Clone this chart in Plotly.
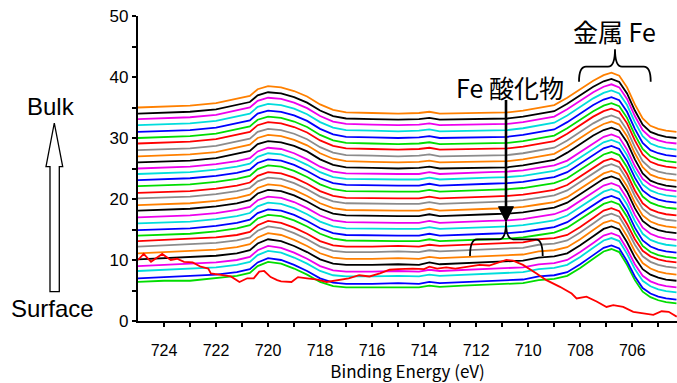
import plotly.graph_objects as go

# ---------------- data ----------------
energy_eV = [725.0, 724.0, 723.0, 722.0, 721.2, 720.7, 720.4, 720.0, 719.5, 719.0,
             718.5, 718.0, 717.5, 717.0, 716.0, 715.0, 714.2, 713.8, 713.4, 712.5,
             711.5, 710.8, 710.2, 709.6, 709.0, 708.5, 708.0, 707.5, 707.1, 706.8,
             706.5, 706.2, 705.9, 705.6, 705.3, 705.0, 704.7, 704.3]

surface_energy_eV = [725.0, 724.78, 724.5, 724.07, 723.74, 723.5, 723.23, 722.9, 722.59, 722.3,
                     722.2, 721.8, 721.43, 721.1, 720.8, 720.55, 720.34, 720.15, 719.9, 719.65,
                     719.5, 719.1, 718.85, 718.5, 718.1, 717.75, 717.3, 716.9, 716.5, 716.1,
                     715.7, 715.33, 715.0, 714.44, 714.0, 713.8, 713.5, 713.15, 712.8, 712.38,
                     711.87, 711.5, 711.22, 710.84, 710.58, 710.2, 709.68, 709.3, 708.78, 708.33,
                     708.14, 707.76, 707.37, 706.99, 706.73, 706.35, 705.96, 705.58, 705.19, 704.87,
                     704.6, 704.29]
surface_intensity = [10.0, 11.0, 9.7, 11.0, 10.0, 10.2, 9.7, 9.6, 8.9, 8.6,
                     7.8, 7.5, 7.3, 6.4, 7.0, 7.0, 8.1, 8.2, 7.2, 6.7,
                     6.5, 6.4, 7.2, 7.0, 6.8, 6.4, 6.7, 7.0, 7.5, 7.3,
                     7.8, 8.4, 8.5, 8.6, 8.5, 8.9, 8.6, 8.8, 8.6, 8.9,
                     9.2, 9.1, 9.5, 10.0, 9.9, 9.2, 7.8, 6.7, 5.6, 4.5,
                     3.7, 4.0, 3.2, 2.3, 2.6, 2.3, 1.5, 1.3, 1.0, 1.6,
                     1.5, 0.7]

layer01 = [6.4, 6.6, 6.6, 7.0, 7.4, 7.9, 9.0, 9.7, 9.4, 8.6, 7.6, 6.4, 5.7, 5.5, 5.5, 5.4, 5.5, 5.8, 5.6, 5.8, 6.0, 6.1, 6.2, 6.7, 6.9, 7.4, 8.7, 10.2, 11.4, 11.8, 11.3, 9.2, 6.7, 4.8, 3.9, 3.4, 3.1, 2.9]
layer02 = [7.0, 7.2, 7.3, 7.6, 8.0, 8.5, 9.6, 10.3, 10.0, 9.2, 8.2, 7.0, 6.3, 6.1, 6.1, 6.2, 6.1, 6.4, 6.2, 6.4, 6.6, 6.7, 6.8, 7.3, 7.5, 8.0, 9.3, 10.8, 12.0, 12.4, 11.9, 9.8, 7.3, 5.4, 4.5, 4.0, 3.7, 3.5]
layer03 = [8.2, 8.4, 8.5, 8.8, 9.2, 9.7, 10.8, 11.5, 11.2, 10.4, 9.4, 8.2, 7.5, 7.3, 7.3, 7.4, 7.3, 7.6, 7.4, 7.6, 7.8, 7.9, 8.0, 8.5, 8.7, 9.2, 10.5, 12.0, 13.2, 13.6, 13.1, 11.0, 8.5, 6.6, 5.7, 5.2, 4.9, 4.7]
layer04 = [9.0, 9.2, 9.3, 9.6, 10.0, 10.5, 11.6, 12.3, 12.0, 11.2, 10.2, 9.0, 8.3, 8.1, 8.1, 8.2, 8.1, 8.4, 8.2, 8.4, 8.6, 8.7, 8.8, 9.3, 9.5, 10.0, 11.3, 12.8, 14.0, 14.4, 13.9, 11.8, 9.3, 7.4, 6.5, 6.0, 5.7, 5.5]
layer05 = [10.1, 10.3, 10.4, 10.7, 11.1, 11.6, 12.7, 13.4, 13.1, 12.3, 11.3, 10.1, 9.4, 9.2, 9.2, 9.3, 9.2, 9.6, 9.3, 9.5, 9.7, 9.8, 9.9, 10.4, 10.6, 11.1, 12.4, 13.9, 15.1, 15.5, 15.0, 12.9, 10.4, 8.5, 7.6, 7.1, 6.8, 6.6]
layer06 = [11.1, 11.3, 11.4, 11.7, 12.1, 12.6, 13.7, 14.4, 14.1, 13.3, 12.3, 11.1, 10.4, 10.2, 10.2, 10.3, 10.2, 10.5, 10.3, 10.5, 10.7, 10.8, 10.9, 11.4, 11.6, 12.1, 13.4, 14.9, 16.1, 16.5, 16.0, 13.9, 11.4, 9.5, 8.6, 8.1, 7.8, 7.6]
layer07 = [12.2, 12.4, 12.5, 12.8, 13.2, 13.7, 14.8, 15.5, 15.2, 14.4, 13.4, 12.2, 11.5, 11.3, 11.3, 11.4, 11.3, 11.6, 11.4, 11.6, 11.8, 11.9, 12.0, 12.5, 12.7, 13.2, 14.5, 16.0, 17.2, 17.6, 17.1, 15.0, 12.5, 10.6, 9.7, 9.2, 8.9, 8.7]
layer08 = [13.1, 13.3, 13.4, 13.7, 14.1, 14.6, 15.7, 16.4, 16.1, 15.3, 14.3, 13.1, 12.4, 12.2, 12.2, 12.3, 12.2, 12.5, 12.3, 12.5, 12.7, 12.8, 12.9, 13.4, 13.6, 14.1, 15.4, 16.9, 18.1, 18.5, 18.0, 15.9, 13.4, 11.5, 10.6, 10.1, 9.8, 9.6]
layer09 = [14.0, 14.1, 14.3, 14.7, 15.2, 15.7, 16.8, 17.4, 17.2, 16.5, 15.5, 14.3, 13.5, 13.2, 13.1, 13.1, 13.1, 13.4, 13.1, 13.3, 13.4, 13.5, 13.7, 14.1, 14.5, 15.3, 16.7, 18.1, 19.2, 19.6, 19.1, 17.1, 14.4, 12.3, 11.3, 10.8, 10.5, 10.3]
layer10 = [14.9, 15.0, 15.2, 15.6, 16.1, 16.6, 17.7, 18.3, 18.1, 17.4, 16.4, 15.2, 14.4, 14.1, 14.0, 14.0, 14.0, 14.3, 14.0, 14.2, 14.3, 14.4, 14.6, 15.0, 15.4, 16.2, 17.6, 19.0, 20.1, 20.5, 20.0, 18.0, 15.3, 13.2, 12.2, 11.7, 11.4, 11.2]
layer11 = [16.0, 16.1, 16.3, 16.7, 17.2, 17.7, 18.8, 19.4, 19.2, 18.5, 17.5, 16.3, 15.5, 15.2, 15.1, 15.1, 15.1, 15.4, 15.1, 15.3, 15.4, 15.5, 15.7, 16.1, 16.5, 17.3, 18.7, 20.1, 21.2, 21.6, 21.1, 19.1, 16.4, 14.3, 13.3, 12.8, 12.5, 12.3]
layer12 = [17.0, 17.1, 17.3, 17.7, 18.2, 18.7, 19.8, 20.4, 20.2, 19.5, 18.5, 17.3, 16.5, 16.2, 16.1, 16.1, 16.1, 16.4, 16.1, 16.3, 16.4, 16.5, 16.7, 17.1, 17.5, 18.3, 19.7, 21.1, 22.2, 22.6, 22.1, 20.1, 17.4, 15.3, 14.3, 13.8, 13.5, 13.3]
layer13 = [18.1, 18.2, 18.4, 18.8, 19.3, 19.8, 20.9, 21.5, 21.3, 20.6, 19.6, 18.4, 17.6, 17.3, 17.2, 17.2, 17.2, 17.5, 17.2, 17.4, 17.5, 17.6, 17.8, 18.2, 18.6, 19.4, 20.8, 22.2, 23.3, 23.7, 23.2, 21.2, 18.5, 16.4, 15.4, 14.9, 14.6, 14.4]
layer14 = [19.0, 19.1, 19.3, 19.7, 20.2, 20.7, 21.8, 22.4, 22.2, 21.5, 20.5, 19.3, 18.5, 18.2, 18.1, 18.1, 18.1, 18.4, 18.1, 18.3, 18.4, 18.5, 18.7, 19.1, 19.5, 20.3, 21.7, 23.1, 24.2, 24.6, 24.1, 22.1, 19.4, 17.3, 16.3, 15.8, 15.5, 15.3]
layer15 = [20.1, 20.2, 20.4, 20.8, 21.3, 21.8, 22.9, 23.5, 23.3, 22.6, 21.6, 20.4, 19.6, 19.3, 19.2, 19.2, 19.2, 19.5, 19.2, 19.4, 19.5, 19.6, 19.8, 20.2, 20.6, 21.4, 22.8, 24.2, 25.3, 25.7, 25.2, 23.2, 20.5, 18.4, 17.4, 16.9, 16.6, 16.4]
layer16 = [21.0, 21.1, 21.3, 21.7, 22.2, 22.7, 23.8, 24.4, 24.2, 23.5, 22.5, 21.3, 20.5, 20.2, 20.1, 20.1, 20.1, 20.4, 20.1, 20.3, 20.4, 20.5, 20.7, 21.1, 21.5, 22.3, 23.7, 25.1, 26.2, 26.6, 26.1, 24.1, 21.4, 19.3, 18.3, 17.8, 17.5, 17.3]
layer17 = [22.1, 22.2, 22.4, 22.8, 23.3, 23.8, 24.9, 25.5, 25.3, 24.6, 23.6, 22.4, 21.6, 21.3, 21.2, 21.2, 21.2, 21.5, 21.2, 21.4, 21.5, 21.6, 21.8, 22.2, 22.6, 23.4, 24.8, 26.2, 27.3, 27.7, 27.2, 25.2, 22.5, 20.4, 19.4, 18.9, 18.6, 18.4]
layer18 = [23.1, 23.2, 23.4, 23.8, 24.3, 24.8, 25.9, 26.5, 26.3, 25.6, 24.6, 23.4, 22.6, 22.3, 22.2, 22.2, 22.2, 22.5, 22.2, 22.4, 22.5, 22.6, 22.8, 23.2, 23.6, 24.4, 25.8, 27.2, 28.3, 28.7, 28.2, 26.2, 23.5, 21.4, 20.4, 19.9, 19.6, 19.4]
layer19 = [24.1, 24.2, 24.4, 24.8, 25.3, 25.8, 26.9, 27.5, 27.3, 26.6, 25.6, 24.4, 23.6, 23.3, 23.2, 23.2, 23.2, 23.5, 23.2, 23.4, 23.5, 23.6, 23.8, 24.2, 24.6, 25.4, 26.8, 28.2, 29.3, 29.7, 29.2, 27.2, 24.5, 22.4, 21.4, 20.9, 20.6, 20.4]
layer20 = [25.0, 25.1, 25.3, 25.7, 26.2, 26.7, 27.8, 28.4, 28.2, 27.5, 26.5, 25.3, 24.5, 24.2, 24.1, 24.1, 24.1, 24.4, 24.1, 24.3, 24.4, 24.5, 24.7, 25.1, 25.5, 26.3, 27.7, 29.1, 30.2, 30.6, 30.1, 28.1, 25.4, 23.3, 22.3, 21.8, 21.5, 21.3]
layer21 = [26.0, 26.1, 26.3, 26.7, 27.4, 27.9, 29.0, 29.5, 29.3, 28.7, 27.8, 26.5, 25.6, 25.2, 25.1, 25.0, 25.1, 25.3, 25.0, 25.1, 25.1, 25.2, 25.5, 25.9, 26.4, 27.6, 29.0, 30.4, 31.3, 31.7, 31.2, 29.3, 26.5, 24.2, 23.0, 22.5, 22.2, 22.0]
layer22 = [27.0, 27.1, 27.3, 27.7, 28.4, 28.9, 30.0, 30.5, 30.3, 29.7, 28.8, 27.5, 26.6, 26.2, 26.1, 26.0, 26.1, 26.3, 26.0, 26.1, 26.1, 26.2, 26.5, 26.9, 27.4, 28.6, 30.0, 31.4, 32.3, 32.7, 32.2, 30.3, 27.5, 25.2, 24.0, 23.5, 23.2, 23.0]
layer23 = [28.0, 28.1, 28.3, 28.7, 29.4, 29.9, 31.0, 31.5, 31.3, 30.7, 29.8, 28.5, 27.6, 27.2, 27.1, 27.0, 27.1, 27.3, 27.0, 27.1, 27.1, 27.2, 27.5, 27.9, 28.4, 29.6, 31.0, 32.4, 33.3, 33.7, 33.2, 31.3, 28.5, 26.2, 25.0, 24.5, 24.2, 24.0]
layer24 = [29.1, 29.2, 29.4, 29.8, 30.5, 31.0, 32.1, 32.6, 32.4, 31.8, 30.9, 29.6, 28.7, 28.3, 28.2, 28.1, 28.2, 28.4, 28.1, 28.2, 28.2, 28.3, 28.6, 29.0, 29.5, 30.7, 32.1, 33.5, 34.4, 34.8, 34.3, 32.4, 29.6, 27.3, 26.1, 25.6, 25.3, 25.1]
layer25 = [30.0, 30.1, 30.3, 30.7, 31.4, 31.9, 33.0, 33.5, 33.3, 32.7, 31.8, 30.5, 29.6, 29.2, 29.1, 29.0, 29.1, 29.3, 29.0, 29.1, 29.1, 29.2, 29.5, 29.9, 30.4, 31.6, 33.0, 34.4, 35.3, 35.7, 35.2, 33.3, 30.5, 28.2, 27.0, 26.5, 26.2, 26.0]
layer26 = [31.0, 31.1, 31.3, 31.7, 32.4, 32.9, 34.0, 34.5, 34.3, 33.7, 32.8, 31.5, 30.6, 30.2, 30.1, 30.0, 30.1, 30.3, 30.0, 30.1, 30.1, 30.2, 30.5, 30.9, 31.4, 32.6, 34.0, 35.4, 36.3, 36.7, 36.2, 34.3, 31.5, 29.2, 28.0, 27.5, 27.2, 27.0]
layer27 = [32.1, 32.2, 32.4, 32.8, 33.5, 34.0, 35.1, 35.6, 35.4, 34.8, 33.9, 32.6, 31.7, 31.3, 31.2, 31.1, 31.2, 31.4, 31.1, 31.2, 31.2, 31.3, 31.6, 32.0, 32.5, 33.7, 35.1, 36.5, 37.4, 37.8, 37.3, 35.4, 32.6, 30.3, 29.1, 28.6, 28.3, 28.1]
layer28 = [33.1, 33.2, 33.4, 33.8, 34.5, 35.0, 36.1, 36.6, 36.4, 35.8, 34.9, 33.6, 32.7, 32.3, 32.2, 32.1, 32.2, 32.4, 32.1, 32.2, 32.2, 32.3, 32.6, 33.0, 33.5, 34.7, 36.1, 37.5, 38.4, 38.8, 38.3, 36.4, 33.6, 31.3, 30.1, 29.6, 29.3, 29.1]
layer29 = [34.0, 34.1, 34.3, 34.7, 35.4, 35.9, 37.0, 37.5, 37.3, 36.7, 35.8, 34.5, 33.6, 33.2, 33.1, 33.0, 33.1, 33.3, 33.0, 33.1, 33.1, 33.2, 33.5, 33.9, 34.4, 35.6, 37.0, 38.4, 39.3, 39.7, 39.2, 37.3, 34.5, 32.2, 31.0, 30.5, 30.2, 30.0]
layer30 = [35.0, 35.1, 35.3, 35.7, 36.4, 36.9, 38.0, 38.5, 38.3, 37.7, 36.8, 35.5, 34.6, 34.2, 34.1, 34.0, 34.1, 34.3, 34.0, 34.1, 34.1, 34.2, 34.5, 34.9, 35.4, 36.6, 38.0, 39.4, 40.3, 40.7, 40.2, 38.3, 35.5, 33.2, 32.0, 31.5, 31.2, 31.0]

x_tick_values = [724, 722, 720, 718, 716, 714, 712, 710, 708, 706]
x_minor_values = [723, 721, 719, 717, 715, 713, 711, 709, 707, 705]
y_tick_values = [0, 10, 20, 30, 40, 50]
y_minor_values = [5, 15, 25, 35, 45]

x_title = "Binding Energy (eV)"
label_metal = "金属 Fe"
label_oxide = "Fe 酸化物"
label_bulk = "Bulk"
label_surface = "Surface"

# ---------------- styling ----------------
layers = [layer01, layer02, layer03, layer04, layer05, layer06, layer07, layer08, layer09, layer10,
          layer11, layer12, layer13, layer14, layer15, layer16, layer17, layer18, layer19, layer20,
          layer21, layer22, layer23, layer24, layer25, layer26, layer27, layer28, layer29, layer30]
color_cycle = ["#00DD00", "#0000FF", "#00DDDD", "#EE00EE", "#000000", "#FF8000", "#8C8C8C", "#FF0000"]

W, H = 677, 383
PL, PR, PT, PB = 138, 677, 16, 321   # plot area in pixels
PW, PH = PR - PL, PB - PT

def px(x):
    return (x - PL) / PW

def py(y):
    return (PB - y) / PH

def path_from(points, close=False):
    s = "M " + " L ".join(f"{px(a):.5f},{py(b):.5f}" for a, b in points)
    return s + (" Z" if close else "")

def brace_path(xl, xr, xc, y_arm, y_bar, y_tip, r=7):
    p = lambda a, b: f"{px(a):.5f},{py(b):.5f}"
    return (f"M {p(xl, y_arm)} Q {p(xl, y_bar)} {p(xl + r, y_bar)} L {p(xc - r, y_bar)} "
            f"Q {p(xc, y_bar)} {p(xc, y_tip)} Q {p(xc, y_bar)} {p(xc + r, y_bar)} "
            f"L {p(xr - r, y_bar)} Q {p(xr, y_bar)} {p(xr, y_arm)}")

fig = go.Figure()
for i, ys in enumerate(layers):
    fig.add_trace(go.Scatter(x=energy_eV, y=ys, mode="lines",
                             line=dict(color=color_cycle[(i) % 8], width=1.8),
                             showlegend=False, hoverinfo="skip"))
fig.add_trace(go.Scatter(x=surface_energy_eV, y=surface_intensity, mode="lines",
                         line=dict(color="#FF0000", width=1.8),
                         showlegend=False, hoverinfo="skip"))

tick_font = dict(family="Liberation Sans, Arial, sans-serif", size=16, color="black")
all_x = sorted(x_tick_values + x_minor_values)
all_y = sorted(y_tick_values + y_minor_values)

fig.update_layout(
    width=W, height=H,
    margin=dict(l=PL, r=W - PR, t=PT, b=H - PB, autoexpand=False),
    paper_bgcolor="white", plot_bgcolor="white",
    xaxis=dict(range=[725, 704.28], tickmode="array", tickvals=all_x,
               ticktext=[str(v) if v in x_tick_values else "" for v in all_x],
               ticks="outside", ticklen=4, tickwidth=1.5, tickcolor="black",
               showline=True, linewidth=1.5, linecolor="black",
               showgrid=False, zeroline=False, tickfont=tick_font,
               ticklabelstandoff=10,
               title=dict(text=x_title, standoff=6,
                          font=dict(family="Noto Sans CJK JP, sans-serif", size=17, color="black"))),
    xaxis2=dict(range=[725, 704.28], overlaying="x", anchor="y", side="bottom",
                tickmode="array", tickvals=all_x, ticks="inside", ticklen=4, tickwidth=1.5,
                tickcolor="black", showticklabels=False, showline=False, showgrid=False,
                zeroline=False),
    yaxis=dict(range=[0, 50], tickmode="array", tickvals=all_y,
               ticktext=[str(v) if v in y_tick_values else "" for v in all_y],
               ticks="outside", ticklen=4.5, tickwidth=1.5, tickcolor="black",
               showline=True, linewidth=1.5, linecolor="black",
               showgrid=False, zeroline=False,
               tickfont=dict(family="Liberation Sans, Arial, sans-serif", size=17, color="black")),
    yaxis2=dict(range=[0, 50], overlaying="y", anchor="x", side="left",
                tickmode="array", tickvals=all_y, ticks="inside", ticklen=4.5, tickwidth=1.5,
                tickcolor="black", showticklabels=False, showline=False, showgrid=False,
                zeroline=False),
)

cjk = dict(family="Noto Sans CJK JP, sans-serif", size=25, color="black")
lat = dict(family="Liberation Sans, Arial, sans-serif", size=24, color="black")
fig.add_annotation(text=label_metal, xref="paper", yref="paper", x=px(614.7), y=py(31),
                   showarrow=False, font=cjk, xanchor="center", yanchor="middle")
fig.add_annotation(text=label_oxide, xref="paper", yref="paper", x=px(509.5), y=py(87.5),
                   showarrow=False, font=cjk, xanchor="center", yanchor="middle")
fig.add_annotation(text=label_bulk, xref="paper", yref="paper", x=px(51), y=py(107),
                   showarrow=False, font=lat, xanchor="center", yanchor="middle")
fig.add_annotation(text=label_surface, xref="paper", yref="paper", x=px(52.5), y=py(308),
                   showarrow=False, font=lat, xanchor="center", yanchor="middle")

shapes = []
# hollow depth arrow (Surface -> Bulk)
shapes.append(dict(type="path", xref="paper", yref="paper",
                   path=path_from([(54.3, 123), (62.7, 166.7), (59.3, 166.7), (59.3, 291.7),
                                   (50, 291.7), (50, 166.7), (46, 166.7)], close=True),
                   line=dict(color="black", width=1.3), fillcolor="white"))
# oxide pointer arrow
shapes.append(dict(type="line", xref="paper", yref="paper", x0=px(506), x1=px(506),
                   y0=py(100), y1=py(208), line=dict(color="black", width=2.6)))
shapes.append(dict(type="path", xref="paper", yref="paper",
                   path=path_from([(498.5, 206.7), (513.5, 206.7), (506, 221.7)], close=True),
                   line=dict(color="black", width=1), fillcolor="black"))
# braces
shapes.append(dict(type="path", xref="paper", yref="paper",
                   path=brace_path(470, 542.7, 506, 256, 239.3, 221.7),
                   line=dict(color="black", width=1.8)))
shapes.append(dict(type="path", xref="paper", yref="paper",
                   path=brace_path(579, 650.7, 615, 81.7, 66.7, 49.3),
                   line=dict(color="black", width=1.8)))
fig.update_layout(shapes=shapes)

fig.write_html("out.html", config={"displayModeBar": False},
               post_script="document.body.style.margin='0';document.body.style.overflow='hidden';")
